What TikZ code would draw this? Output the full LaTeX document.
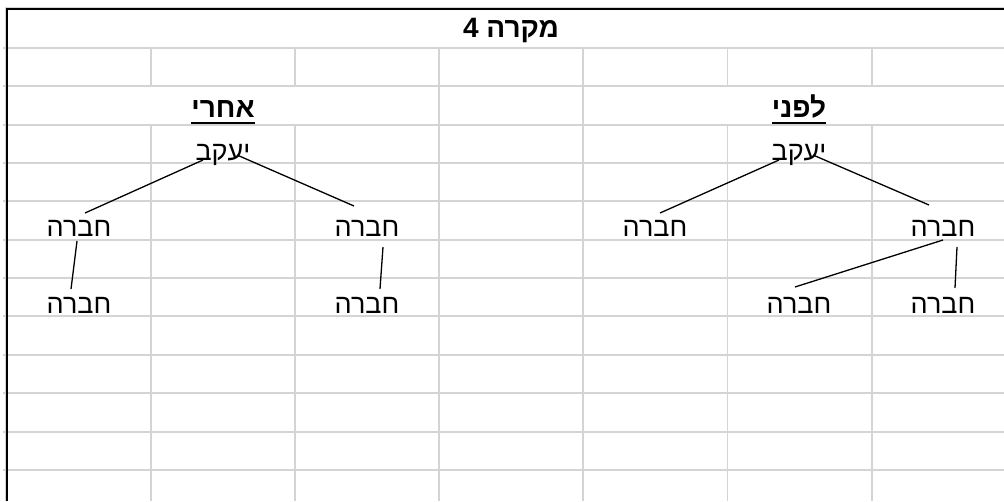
\documentclass[tikz,border=0pt]{standalone}
\usepackage{fontspec}
\newfontfamily\heb[Script=Hebrew]{Liberation Sans}
\TeXXeTstate=1
\definecolor{gridgray}{HTML}{D4D4D4}
\begin{document}
\begin{tikzpicture}[x=1pt,y=-1pt,
  hline/.style={draw=gridgray, line width=2pt},
  vline/.style={draw=gridgray, line width=1.7pt},
  border/.style={draw=black, line width=2pt},
  lbl/.style={font=\heb\fontsize{27}{32}\selectfont, inner sep=0pt, anchor=base},
  head/.style={font=\heb\bfseries\fontsize{28}{33}\selectfont, inner sep=0pt, anchor=base},
  conn/.style={draw=black, line width=1.3pt},
  uline/.style={draw=black, line width=2.3pt}]
\useasboundingbox (0,0) rectangle (1004,501);
\fill[white] (0,0) rectangle (1004,501);
% horizontal grid lines
\foreach \k in {0,...,11} {
  \pgfmathsetmacro{\yy}{48+38.35*\k}
  \draw[hline] (3,\yy) -- (1004,\yy);
}
% vertical grid lines
\foreach \k in {1,...,6} {
  \pgfmathsetmacro{\xx}{6.5+144.2*\k}
  \draw[vline] (\xx,48) -- (\xx,86.35);
  \draw[vline] (\xx,124.7) -- (\xx,501);
}
\draw[vline] (439.1,86.35) -- (439.1,124.7);
\draw[vline] (583.3,86.35) -- (583.3,124.7);
% outer borders
\draw[draw=gridgray, line width=1.2pt] (5,7.2) -- (1004,7.2);
\draw[draw=gridgray, line width=1.2pt] (5.2,7) -- (5.2,501);
\draw[border] (6,9) -- (1004,9);
\draw[border] (7,8) -- (7,501);
% title
\node[head] (title) at (511,37) {\beginR מקרה 4\endR};
% headings
\node[head] (after) at (223,117) {\beginR אחרי\endR};
\node[head] (before) at (799,117) {\beginR לפני\endR};
\draw[uline] ([shift={(0,6)}]after.base west) -- ([shift={(0,6)}]after.base east);
\draw[uline] ([shift={(0,6)}]before.base west) -- ([shift={(0,6)}]before.base east);
% before tree (right)
\node[lbl] (r0) at (799,160) {\beginR יעקב\endR};
\node[lbl] (r1) at (655,236) {\beginR חברה\endR};
\node[lbl] (r2) at (943,236) {\beginR חברה\endR};
\node[lbl] (r3) at (799,313) {\beginR חברה\endR};
\node[lbl] (r4) at (943,313) {\beginR חברה\endR};
\draw[conn] ([shift={(-20,0)}]r0.base) -- ([shift={(5,-23)}]r1.base);
\draw[conn] ([shift={(14,-5)}]r0.base) -- ([shift={(-14,-31)}]r2.base);
\draw[conn] ([shift={(0,4)}]r2.base) -- ([shift={(-4,-26)}]r3.base);
\draw[conn] ([shift={(14,11)}]r2.base) -- ([shift={(12,-25)}]r4.base);
% after tree (left)
\node[lbl] (l0) at (223,160) {\beginR יעקב\endR};
\node[lbl] (l1) at (79,236) {\beginR חברה\endR};
\node[lbl] (l2) at (367,236) {\beginR חברה\endR};
\node[lbl] (l3) at (79,313) {\beginR חברה\endR};
\node[lbl] (l4) at (367,313) {\beginR חברה\endR};
\draw[conn] ([shift={(-20,0)}]l0.base) -- ([shift={(6,-23)}]l1.base);
\draw[conn] ([shift={(14,-5)}]l0.base) -- ([shift={(-13,-30)}]l2.base);
\draw[conn] ([shift={(-2,5)}]l1.base) -- ([shift={(-8,-24)}]l3.base);
\draw[conn] ([shift={(16,11)}]l2.base) -- ([shift={(13,-24)}]l4.base);
\end{tikzpicture}
\end{document}
